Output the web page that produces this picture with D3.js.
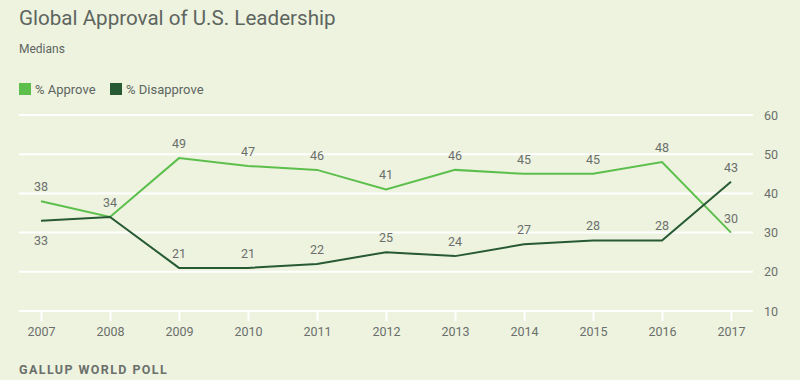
<!DOCTYPE html>
<html><head><meta charset="utf-8">
<script src="https://cdn.jsdelivr.net/npm/d3@7"></script>
<style>
html,body{margin:0;padding:0;background:#edf3df;}
svg{display:block;font-family:Roboto,"Open Sans",sans-serif;}
</style></head><body>
<svg id="c" width="800" height="380"></svg>
<script>
const years = [2007,2008,2009,2010,2011,2012,2013,2014,2015,2016,2017];
const approve = [38,34,49,47,46,41,46,45,45,48,30];
const disapprove = [33,34,21,21,22,25,24,27,28,28,43];
const yTicks = [10,20,30,40,50,60];
const seriesNames = ["% Approve","% Disapprove"];
const colors = ["#5cbf4b","#275a34"];

const svg = d3.select("#c");
svg.append("rect").attr("width",800).attr("height",380).attr("fill","#edf3df");

const x = d3.scalePoint().domain(years).range([41,731]);
const y = d3.scaleLinear().domain([10,60]).range([311,115]);

// title
svg.append("text").attr("x",19).attr("y",25).attr("fill","#5e655f").attr("font-size",20.6).text("Global Approval of U.S. Leadership");
svg.append("text").attr("x",19).attr("y",53).attr("fill","#5e655f").attr("font-size",12).text("Medians");

// legend
const lx = [19,110];
seriesNames.forEach((n,i)=>{
  svg.append("rect").attr("x",lx[i]).attr("y",83).attr("width",12).attr("height",12).attr("fill",colors[i]);
  svg.append("text").attr("x",lx[i]+16).attr("y",93.5).attr("fill","#5e655f").attr("font-size",13).text(n);
});

// gridlines
svg.append("g").selectAll("line").data(yTicks).join("line")
  .attr("x1",19).attr("x2",753).attr("y1",d=>y(d)).attr("y2",d=>y(d))
  .attr("stroke","#ffffff").attr("stroke-width",2);

// y axis labels
const yAxis = d3.axisRight(y).tickValues(yTicks).tickSize(0).tickPadding(0);
const ya = svg.append("g").attr("transform","translate(764,0)").call(yAxis);
ya.select(".domain").remove();
ya.selectAll("text").attr("fill","#6b6f6b").attr("font-size",12.5).attr("font-family","Roboto,sans-serif");

// x axis
const xAxis = d3.axisBottom(x).tickSize(10).tickPadding(6);
const xa = svg.append("g").attr("transform",`translate(0,${y(10)})`).call(xAxis);
xa.select(".domain").remove();
xa.selectAll("line").attr("stroke","#ffffff").attr("stroke-width",2);
xa.selectAll("text").attr("fill","#6b6f6b").attr("font-size",12.5).attr("font-family","Roboto,sans-serif");

// lines
const line = d3.line().x((d,i)=>x(years[i])).y(d=>y(d));
[approve,disapprove].forEach((s,k)=>{
  svg.append("path").datum(s).attr("d",line).attr("fill","none")
    .attr("stroke",colors[k]).attr("stroke-width",2);
});

// labels
const lab = svg.append("g").attr("font-size",12.5).attr("fill","#6b6f6b").attr("text-anchor","middle");
approve.forEach((v,i)=>{
  lab.append("text").attr("x",x(years[i])).attr("y",y(v)-10).text(v);
});
disapprove.forEach((v,i)=>{
  if (years[i]===2008) return;
  const below = years[i]===2007;
  lab.append("text").attr("x",x(years[i])).attr("y",below ? y(v)+24 : y(v)-10).text(v);
});

// footer
svg.append("text").attr("x",19).attr("y",374).attr("fill","#6b6f6b").attr("font-size",12.5)
  .attr("font-weight","bold").attr("letter-spacing","1.4").text("GALLUP WORLD POLL");
</script>
</body></html>
